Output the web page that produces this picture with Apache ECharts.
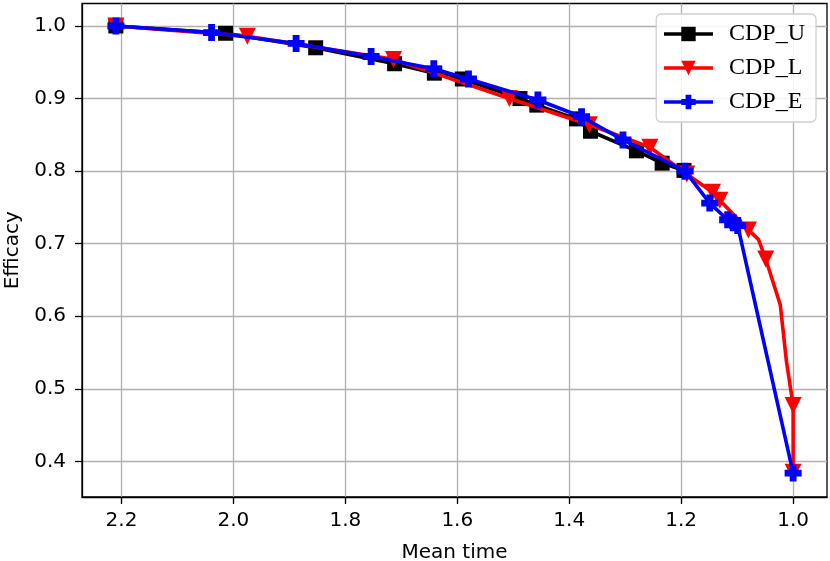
<!DOCTYPE html>
<html>
<head>
<meta charset="utf-8">
<script src="https://cdn.jsdelivr.net/npm/echarts@6/dist/echarts.min.js"></script>
<style>
  html, body { margin: 0; padding: 0; background: #fff; }
  #chart { width: 830px; height: 561px; }
</style>
</head>
<body>
<div id="chart"></div>
<script>
/* 数据：[Mean time, Efficacy] */
var cdpU = [
  [2.21, 1.000], [2.014, 0.990], [1.853, 0.970], [1.712, 0.948], [1.641, 0.935],
  [1.591, 0.927], [1.488, 0.900], [1.458, 0.891], [1.387, 0.872], [1.362, 0.855],
  [1.280, 0.828], [1.234, 0.811], [1.195, 0.801]
];
var cdpL = [
  [2.21, 1.000], [1.975, 0.986], [1.714, 0.954], [1.507, 0.900], [1.364, 0.864],
  [1.256, 0.833], [1.190, 0.796], [1.144, 0.771], [1.131, 0.760], [1.080, 0.719],
  [1.062, 0.706], [1.049, 0.679], [1.023, 0.616], [1.012, 0.538], [1.000, 0.477],
  [1.000, 0.385]
];
// 红线上没有标记的拐点
var cdpLNoMark = [10, 12, 13];
var cdpE = [
  [2.21, 1.000], [2.039, 0.991], [1.888, 0.976], [1.754, 0.958], [1.642, 0.941],
  [1.580, 0.927], [1.456, 0.898], [1.378, 0.875], [1.304, 0.843], [1.193, 0.800],
  [1.149, 0.756], [1.117, 0.733], [1.107, 0.729], [1.099, 0.725], [1.000, 0.384]
];
var xTicks = [1.0, 1.2, 1.4, 1.6, 1.8, 2.0, 2.2];
var yTicks = [0.4, 0.5, 0.6, 0.7, 0.8, 0.9, 1.0];

var plusPath = 'path://M3,0H7V3H10V7H7V10H3V7H0V3H3Z';
var tickFont = { fontFamily: 'DejaVu Sans', fontSize: 20, color: '#000' };

var chart = echarts.init(document.getElementById('chart'));

var lData = cdpL.map(function (p, i) {
  if (cdpLNoMark.indexOf(i) >= 0) {
    return { value: p, symbol: 'none' };
  }
  return p;
});

option = {
  animation: false,
  backgroundColor: '#fff',
  grid: {
    left: 82, right: 3, top: 3.5, bottom: 64,
    outerBoundsMode: 'none',
    containLabel: false,
    show: true, borderColor: '#000', borderWidth: 1.3
  },
  legend: {
    orient: 'vertical',
    right: 14, top: 14,
    padding: [8, 11, 8, 6],
    itemGap: 10,
    itemWidth: 49,
    itemHeight: 18,
    backgroundColor: 'rgba(255,255,255,0.85)',
    borderColor: '#d0d0d0',
    borderWidth: 1.3,
    borderRadius: 5,
    lineStyle: { width: 3.5 },
    textStyle: {
      fontFamily: 'Liberation Serif', fontSize: 24, color: '#000',
      lineHeight: 23, padding: [0, 0, 0, 11]
    },
    data: ['CDP_U', 'CDP_L', 'CDP_E']
  },
  xAxis: {
    type: 'value',
    inverse: true,
    min: 0.9395, max: 2.2705,
    name: 'Mean time',
    nameLocation: 'middle',
    nameGap: 46,
    nameTextStyle: tickFont,
    axisLine: { show: true, lineStyle: { color: '#000', width: 1.3 } },
    axisTick: { show: true, length: 7, customValues: xTicks, lineStyle: { color: '#000', width: 1.3 } },
    axisLabel: Object.assign({ margin: 14, customValues: xTicks, formatter: function (v) { return v.toFixed(1); } }, tickFont),
    splitLine: { show: true, lineStyle: { color: '#b0b0b0', width: 1.3 } }
  },
  yAxis: {
    type: 'value',
    min: 0.351, max: 1.031,
    name: 'Efficacy',
    nameLocation: 'middle',
    nameGap: 59,
    nameTextStyle: tickFont,
    axisLine: { show: true, lineStyle: { color: '#000', width: 1.3 } },
    axisTick: { show: true, length: 7, customValues: yTicks, lineStyle: { color: '#000', width: 1.3 } },
    axisLabel: Object.assign({ margin: 16, customValues: yTicks, formatter: function (v) { return v.toFixed(1); } }, tickFont),
    splitLine: { show: true, lineStyle: { color: '#b0b0b0', width: 1.3 } }
  },
  series: [
    {
      name: 'CDP_U', type: 'line', data: cdpU,
      symbol: 'rect', symbolSize: 15,
      itemStyle: { color: '#000' },
      lineStyle: { color: '#000', width: 3.6 },
      z: 2
    },
    {
      name: 'CDP_L', type: 'line', data: lData,
      symbol: 'triangle', symbolSize: 17, symbolRotate: 180,
      itemStyle: { color: '#ff0000' },
      lineStyle: { color: '#ff0000', width: 3.6 },
      z: 3
    },
    {
      name: 'CDP_E', type: 'line', data: cdpE,
      symbol: plusPath, symbolSize: 17,
      itemStyle: { color: '#0000ff' },
      lineStyle: { color: '#0000ff', width: 3.6 },
      z: 4
    }
  ]
};
chart.setOption(option);
</script>
</body>
</html>
